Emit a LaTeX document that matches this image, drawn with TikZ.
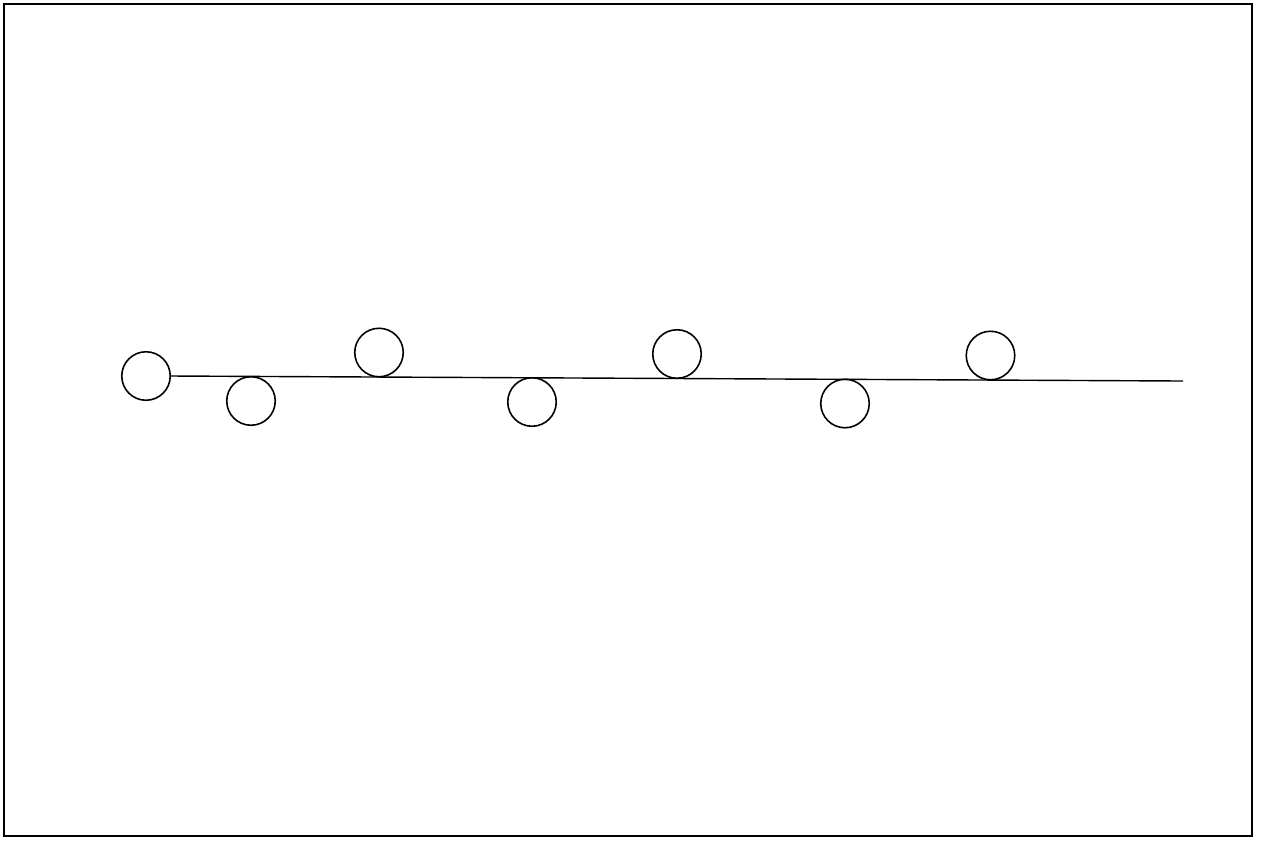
\documentclass[tikz,border=0pt]{standalone}
\begin{document}
\begin{tikzpicture}[x=0.02cm,y=-0.02cm,
  ball/.style={draw,circle,minimum size=0.97cm,inner sep=0pt,line width=0.9pt},
  track/.style={line width=0.8pt}]
\useasboundingbox (0,0) rectangle (1261,840);
\draw[line width=1.4pt] (4,4) rectangle (1252,836);
\node[ball] (c1) at (146,376) {};
\node[ball] (c2) at (251,401) {};
\node[ball] (c3) at (379,352.5) {};
\node[ball] (c4) at (532,402) {};
\node[ball] (c5) at (677,354) {};
\node[ball] (c6) at (845,403.5) {};
\node[ball] (c7) at (990.5,355.5) {};
\coordinate (end) at (1183,381);
\draw[track] (c1.east) -- (end);
\end{tikzpicture}
\end{document}
